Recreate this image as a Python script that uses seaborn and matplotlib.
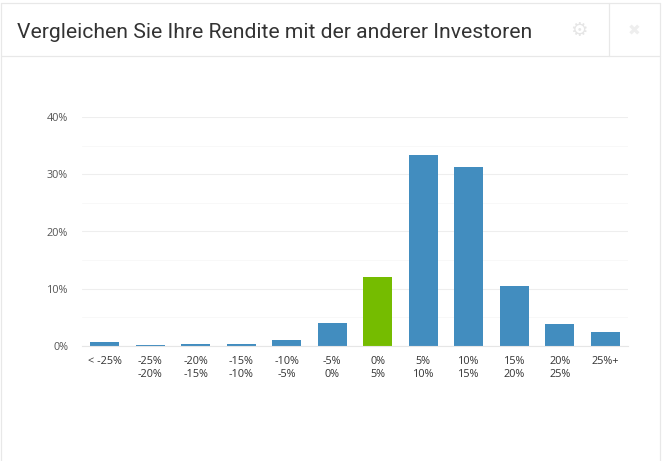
import pandas as pd
import matplotlib.pyplot as plt
import seaborn as sns
from matplotlib.lines import Line2D
from matplotlib.ticker import MultipleLocator, FuncFormatter

# Data
categories = ["< -25%", "-25%\n-20%", "-20%\n-15%", "-15%\n-10%", "-10%\n-5%", "-5%\n0%",
              "0%\n5%", "5%\n10%", "10%\n15%", "15%\n20%", "20%\n25%", "25%+"]
shares = [0.7, 0.2, 0.3, 0.35, 1.0, 4.0, 12.1, 33.4, 31.3, 10.5, 3.9, 2.4]
highlight = "0%\n5%"

W, H = 662, 461
BLUE = "#428dbf"
GREEN = "#75bc00"


def main():
    df = pd.DataFrame({"bucket": categories, "share": shares})
    palette = {c: (GREEN if c == highlight else BLUE) for c in categories}

    sns.set_style("white")
    plt.rcParams["font.family"] = ["Open Sans", "DejaVu Sans"]

    fig = plt.figure(figsize=(W / 100, H / 100), dpi=100)
    ax = fig.add_axes([82 / W, (H - 346) / H, (628 - 82) / W, (346 - 117) / H])

    sns.barplot(data=df, x="bucket", y="share", hue="bucket", palette=palette,
                order=categories, width=0.64, legend=False, saturation=1,
                linewidth=0, ax=ax)

    ax.set_xlim(-0.5, 11.5)
    ax.set_ylim(0, 40)
    ax.set_xlabel("")
    ax.set_ylabel("")
    ax.yaxis.set_major_locator(MultipleLocator(10))
    ax.yaxis.set_minor_locator(MultipleLocator(5))
    ax.yaxis.set_major_formatter(FuncFormatter(lambda v, _: f"{v:.0f}%"))
    ax.grid(True, axis="y", which="major", color="#eeeeee", lw=0.8)
    ax.grid(True, axis="y", which="minor", color="#f8f8f8", lw=0.7)
    ax.set_axisbelow(True)
    ax.tick_params(axis="both", which="both", length=0)
    ax.tick_params(axis="x", labelsize=7.8, labelcolor="#333333", pad=7)
    ax.tick_params(axis="y", labelsize=7.8, labelcolor="#555555", pad=10)
    for label in ax.get_xticklabels():
        label.set_linespacing(1.3)
        label.set_verticalalignment("top")
    sns.despine(ax=ax, left=True, top=True, right=True)
    ax.spines["bottom"].set_color("#e6e6e6")
    ax.spines["bottom"].set_linewidth(0.8)

    # panel frame around the chart
    frame = "#e8e8e8"
    segments = [((1, 1), (461, 3)), ((1, 660), (3, 3)), ((660, 660), (3, 461)),
                ((1, 660), (56, 56)), ((609, 609), (3, 56))]
    for xs, ys in segments:
        fig.add_artist(Line2D([x / W for x in xs], [1 - y / H for y in ys],
                              color=frame, lw=0.9))

    fig.text(17 / W, 1 - 32 / H, "Vergleichen Sie Ihre Rendite mit der anderer Investoren",
             family="Roboto", fontsize=15.26, color="#333333", va="center", ha="left")
    fig.text(579 / W, 1 - 31 / H, "\u2699", family="DejaVu Sans", fontweight="bold",
             fontsize=14, color="#e6e6e6", va="center", ha="center")
    fig.text(634 / W, 1 - 31 / H, "\u2716", family="DejaVu Sans", fontsize=11,
             color="#eeeeee", va="center", ha="center")

    fig.savefig("out.png", dpi=100, facecolor="white")


if __name__ == "__main__":
    main()
